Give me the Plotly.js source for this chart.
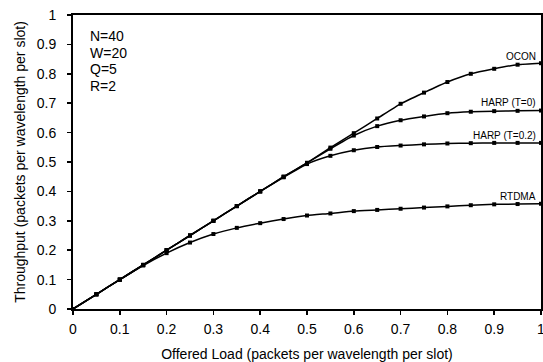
<!DOCTYPE html>
<html>
<head>
<meta charset="utf-8">
<script src="https://cdn.plot.ly/plotly-3.0.1.min.js"></script>
<style>html,body{margin:0;padding:0;background:#fff;}#chart{width:543px;height:362px;}</style>
</head>
<body>
<div id="chart"></div>
<script>
const load = [0,0.05,0.1,0.15,0.2,0.25,0.3,0.35,0.4,0.45,0.5,0.55,0.6,0.65,0.7,0.75,0.8,0.85,0.9,0.95,1.0];
const ocon = [0,0.05,0.1,0.15,0.2,0.25,0.3,0.35,0.4,0.45,0.497,0.549,0.598,0.648,0.698,0.736,0.772,0.800,0.817,0.831,0.836];
const harpT0 = [0,0.05,0.1,0.15,0.2,0.25,0.3,0.35,0.4,0.45,0.497,0.545,0.590,0.622,0.642,0.655,0.666,0.671,0.673,0.674,0.675];
const harpT02 = [0,0.05,0.1,0.15,0.2,0.25,0.3,0.35,0.4,0.448,0.493,0.521,0.540,0.551,0.556,0.560,0.563,0.564,0.565,0.565,0.565];
const rtdma = [0,0.05,0.1,0.148,0.19,0.226,0.255,0.276,0.292,0.306,0.318,0.325,0.333,0.337,0.341,0.345,0.349,0.353,0.356,0.357,0.358];
const seriesNames = ["OCON","HARP (T=0)","HARP (T=0.2)","RTDMA"];
const labelY = [0.859,0.703,0.591,0.384];
const params = ["N=40","W=20","Q=5","R=2"];
const xTicks = [0,0.1,0.2,0.3,0.4,0.5,0.6,0.7,0.8,0.9,1];
const xTickText = ["0","0.1","0.2","0.3","0.4","0.5","0.6","0.7","0.8","0.9","1"];
const yTicks = [0,0.1,0.2,0.3,0.4,0.5,0.6,0.7,0.8,0.9,1];
const yTickText = ["0","0.1","0.2","0.3","0.4","0.5","0.6","0.7","0.8","0.9","1"];

const font = "Liberation Sans, Arial, Helvetica, sans-serif";
const allY = [ocon, harpT0, harpT02, rtdma];
const traces = allY.map((ys, i) => ({
  x: load, y: ys, name: seriesNames[i], type: 'scatter', mode: 'lines+markers',
  line: {color: '#000', width: 1.5, shape: 'spline', smoothing: 0.5},
  marker: {symbol: 'square', size: 4, color: '#000'},
  showlegend: false, cliponaxis: false
}));

const annotations = [];
seriesNames.forEach((n, i) => annotations.push({
  x: 0.994, y: labelY[i], xref: 'x', yref: 'y', text: n, showarrow: false,
  xanchor: 'right', yanchor: 'middle', font: {family: font, size: 10, color: '#000'}
}));
const L = 73, T = 15, W = 468, H = 294;
params.forEach((p, i) => annotations.push({
  x: (88 - L) / W, y: 1 - (36 + i * 16.7 - T) / H, xref: 'x', yref: 'y', text: p, showarrow: false,
  xanchor: 'left', yanchor: 'middle', font: {family: font, size: 14, color: '#000'}
}));

const layout = {
  width: 543, height: 362,
  margin: {l: L, r: 543 - L - W, t: T, b: 362 - T - H},
  paper_bgcolor: '#fff', plot_bgcolor: '#fff',
  font: {family: font, color: '#000', size: 14},
  xaxis: {
    range: [0, 1], tickvals: xTicks, ticktext: xTickText,
    showgrid: false, zeroline: false, showline: true, mirror: true,
    linecolor: '#000', linewidth: 2, ticks: 'outside', ticklen: 4, tickwidth: 1.5, tickcolor: '#000',
    tickfont: {family: font, size: 14, color: '#000'},
    ticklabelstandoff: 2, ticklabeloverflow: 'allow',
    title: {text: 'Offered Load (packets per wavelength per slot)', font: {family: font, size: 14, color: '#000'}, standoff: 13}
  },
  yaxis: {
    range: [0, 1], tickvals: yTicks, ticktext: yTickText,
    showgrid: false, zeroline: false, showline: true, mirror: true,
    linecolor: '#000', linewidth: 2, ticks: 'outside', ticklen: 4, tickwidth: 1.5, tickcolor: '#000',
    tickfont: {family: font, size: 14, color: '#000'},
    ticklabelstandoff: 8, ticklabeloverflow: 'allow',
    title: {text: 'Throughput (packets per wavelength per slot)', font: {family: font, size: 14, color: '#000'}, standoff: 8}
  },
  annotations: annotations
};
Plotly.newPlot('chart', traces, layout, {staticPlot: true, displayModeBar: false});
</script>
</body>
</html>
